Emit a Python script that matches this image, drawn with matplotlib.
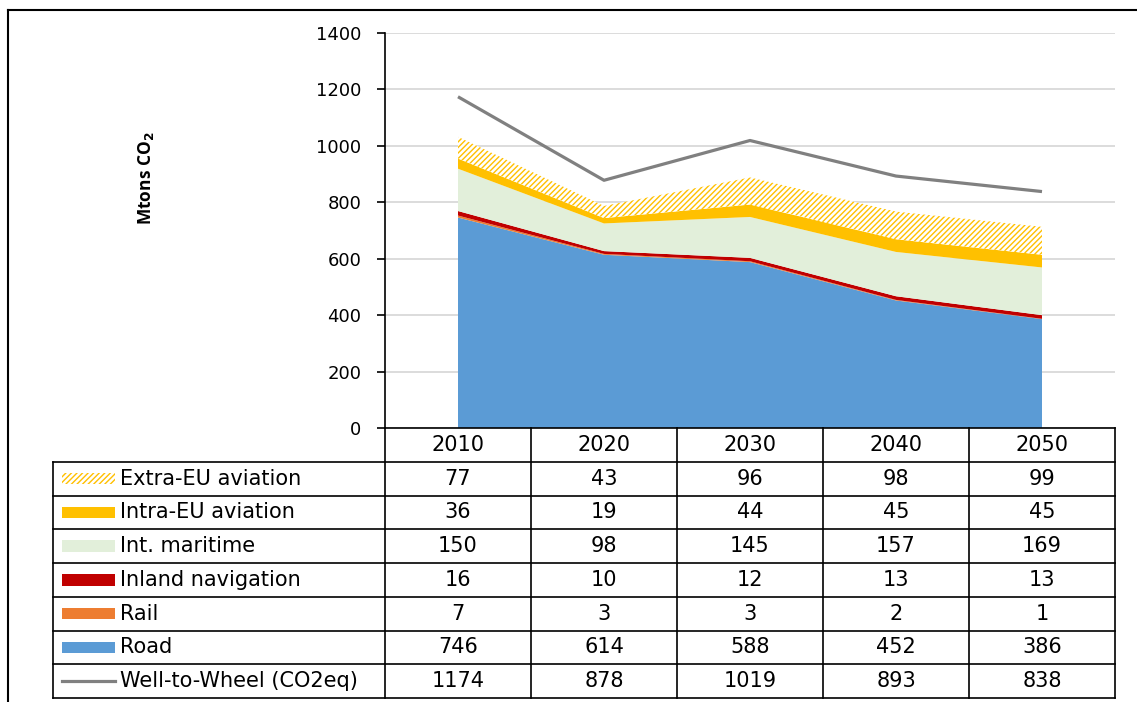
import matplotlib
matplotlib.use("Agg")
import matplotlib.pyplot as plt
from matplotlib.lines import Line2D
from matplotlib.patches import Rectangle
import numpy as np

plt.rcParams['font.family'] = ['DejaVu Sans']
plt.rcParams['hatch.linewidth'] = 1.0

years = ['2010', '2020', '2030', '2040', '2050']
road = [746, 614, 588, 452, 386]
rail = [7, 3, 3, 2, 1]
inland = [16, 10, 12, 13, 13]
maritime = [150, 98, 145, 157, 169]
intra_eu = [36, 19, 44, 45, 45]
extra_eu = [77, 43, 96, 98, 99]
wtw = [1174, 878, 1019, 893, 838]

series_names = ['Extra-EU aviation', 'Intra-EU aviation', 'Int. maritime',
                'Inland navigation', 'Rail', 'Road', 'Well-to-Wheel (CO2eq)']
yticks = [0, 200, 400, 600, 800, 1000, 1200, 1400]

c_road = '#5B9BD5'
c_rail = '#ED7D31'
c_inland = '#C00000'
c_mar = '#E2EFDA'
c_intra = '#FFC000'
c_wtw = '#808080'
HATCH = '//////'
FS_TABLE = 15
FS_TICK = 13

W, H = 1137, 702
fig = plt.figure(figsize=(W / 100, H / 100), dpi=100)

# chart axes
ax_l, ax_r, ax_t, ax_b = 385, 1115, 33, 428
ax = fig.add_axes([ax_l / W, 1 - ax_b / H, (ax_r - ax_l) / W, (ax_b - ax_t) / H])
x = np.arange(len(years))
layers = [road, rail, inland, maritime, intra_eu]
colors = [c_road, c_rail, c_inland, c_mar, c_intra]
base = np.zeros(len(years))
for vals, col in zip(layers, colors):
    top = base + np.array(vals)
    ax.fill_between(x, base, top, facecolor=col, edgecolor='none', linewidth=0, zorder=2)
    base = top
top = base + np.array(extra_eu)
ax.fill_between(x, base, top, facecolor='white', edgecolor=c_intra, hatch=HATCH,
                linewidth=0, zorder=2)
ax.plot(x, wtw, color=c_wtw, linewidth=2.3, zorder=3, solid_capstyle='butt')

ax.set_xlim(-0.5, 4.5)
ax.set_ylim(0, 1400)
ax.set_yticks(yticks)
ax.set_yticklabels([str(v) for v in yticks], fontsize=FS_TICK)
ax.tick_params(axis='y', direction='out', length=6, width=1.2, pad=11, color='black')
ax.set_xticks([])
ax.grid(axis='y', color='#D9D9D9', linewidth=1.3, zorder=0)
ax.set_axisbelow(True)
for s in ['top', 'right', 'bottom']:
    ax.spines[s].set_visible(False)
ax.spines['left'].set_linewidth(1.2)

fig.text(146 / W, 1 - 178 / H, r'Mtons CO$_{\mathbf{2}}$', rotation=90, fontsize=12.5,
         fontweight='bold', ha='center', va='center', family=['Open Sans', 'DejaVu Sans'])

# table axes
tb_l, tb_t, tb_b = 53, 428, 698
ppu = (ax_r - ax_l) / 5.0
x_left = -0.5 - (ax_l - tb_l) / ppu
tax = fig.add_axes([tb_l / W, 1 - tb_b / H, (ax_r - tb_l) / W, (tb_b - tb_t) / H])
tax.set_xlim(x_left, 4.5)
nrows = len(series_names) + 1
tax.set_ylim(nrows, 0)
tax.axis('off')
lw = 1.2
tax.plot([-0.5, 4.5], [0, 0], color='black', lw=lw, clip_on=False)
for i in range(6):
    xx = -0.5 + i
    tax.plot([xx, xx], [0, nrows], color='black', lw=lw, clip_on=False)
tax.plot([x_left, x_left], [1, nrows], color='black', lw=lw, clip_on=False)
for r in range(1, nrows + 1):
    tax.plot([x_left, 4.5], [r, r], color='black', lw=lw, clip_on=False)
for i, yv in enumerate(years):
    tax.text(i, 0.5, yv, ha='center', va='center', fontsize=FS_TABLE)

table_vals = [extra_eu, intra_eu, maritime, inland, rail, road, wtw]
key_colors = ['hatch', c_intra, c_mar, c_inland, c_rail, c_road, 'line']
px = 1.0 / ppu
kx0 = x_left + 9 * px
kx1 = x_left + 62 * px
for r, (name, vals, kc) in enumerate(zip(series_names, table_vals, key_colors)):
    yc = r + 1.5
    if kc == 'hatch':
        tax.add_patch(Rectangle((kx0, yc - 0.17), kx1 - kx0, 0.34, facecolor='white',
                                edgecolor=c_intra, hatch=HATCH, linewidth=0))
    elif kc == 'line':
        tax.plot([kx0, kx1], [yc, yc], color=c_wtw, lw=2.3)
    else:
        tax.add_patch(Rectangle((kx0, yc - 0.17), kx1 - kx0, 0.34, facecolor=kc,
                                edgecolor='none'))
    tax.text(x_left + 67 * px, yc, name, ha='left', va='center', fontsize=FS_TABLE)
    for i, v in enumerate(vals):
        tax.text(i, yc, str(v), ha='center', va='center', fontsize=FS_TABLE)

# figure frame lines
fig.add_artist(Line2D([8 / W, 1.0], [1 - 10 / H, 1 - 10 / H], color='black', lw=1.5,
                      transform=fig.transFigure))
fig.add_artist(Line2D([8 / W, 8 / W], [0, 1 - 10 / H], color='black', lw=1.5,
                      transform=fig.transFigure))

fig.savefig('out.png', dpi=100)
